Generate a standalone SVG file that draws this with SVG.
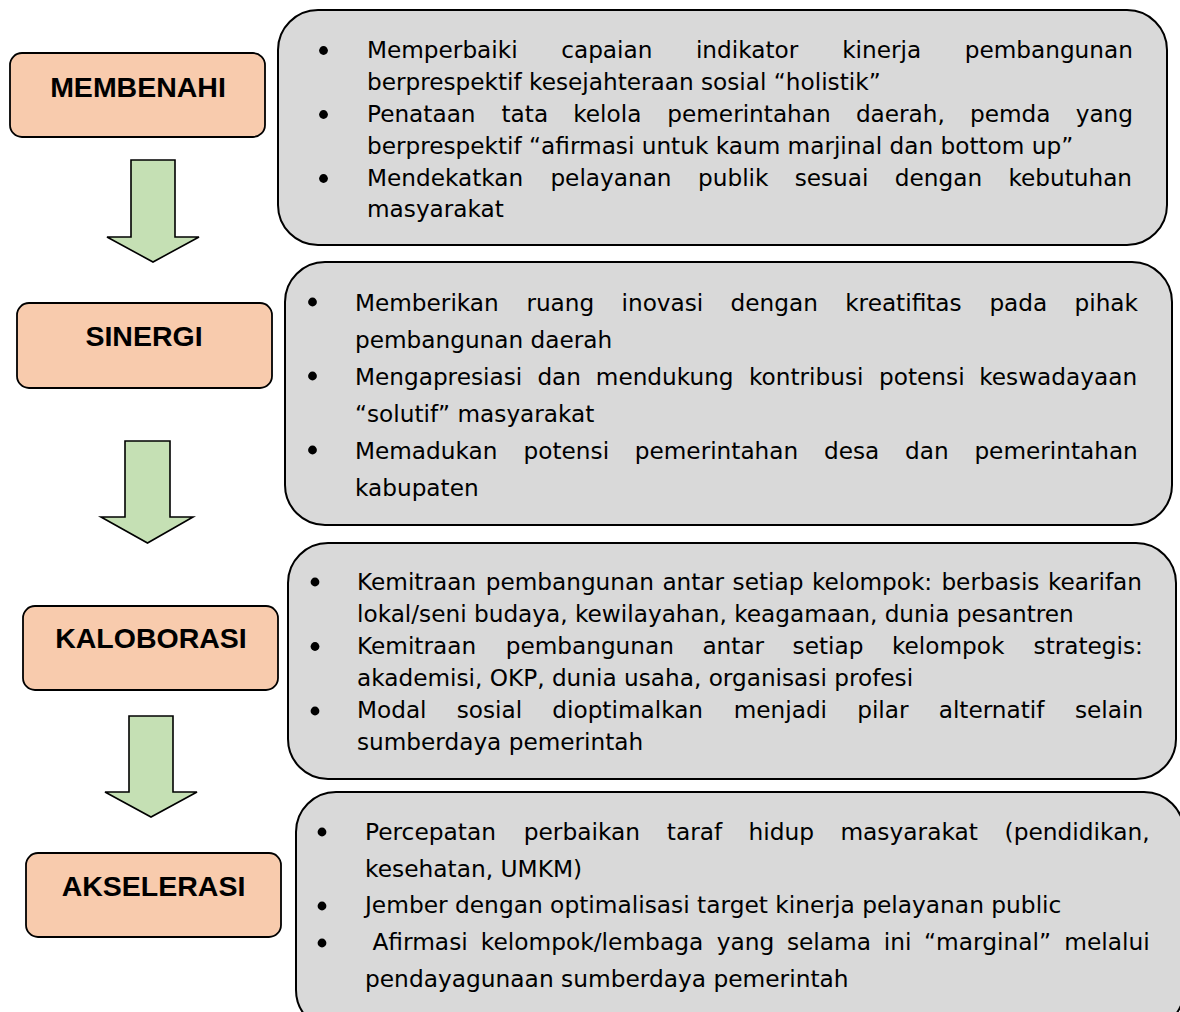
<svg xmlns="http://www.w3.org/2000/svg" width="1180" height="1012" viewBox="0 0 1180 1012">
<style>
.step{fill:#f8cbad;stroke:#000;stroke-width:1.8}
.info{fill:#d9d9d9;stroke:#000;stroke-width:2}
.arrow{fill:#c5e0b4;stroke:#000;stroke-width:1.6;stroke-linejoin:miter}
.head{font-family:"Liberation Sans",Arial,sans-serif;font-weight:bold;font-size:28.5px;fill:#000;text-anchor:middle}
.t{font-family:"DejaVu Sans",Verdana,sans-serif;font-size:23.2px;fill:#000}
.t4{font-family:"DejaVu Sans",Verdana,sans-serif;font-size:23.3px;fill:#000}
.dot{fill:#000}
</style>
<rect width="1180" height="1012" fill="#fff"/>

<g id="connectors">
<polygon class="arrow" points="131,160 175,160 175,237 199,237 153,262 107,237 131,237"/>
<polygon class="arrow" points="125,441 170,441 170,517 193,517 147.5,543 101,517 125,517"/>
<polygon class="arrow" points="129,716 173,716 173,792 197,792 151,817 105,792 129,792"/>
</g>

<g id="node-membenahi">
<rect class="step" x="10" y="53" width="255" height="84" rx="12"/>
<text class="head" x="138" y="96.5">MEMBENAHI</text>
</g>
<g id="node-sinergi">
<rect class="step" x="17" y="303" width="255" height="85" rx="12"/>
<text class="head" x="144" y="346">SINERGI</text>
</g>
<g id="node-kaloborasi">
<rect class="step" x="23" y="606" width="255" height="84" rx="12"/>
<text class="head" x="151" y="648">KALOBORASI</text>
</g>
<g id="node-akselerasi">
<rect class="step" x="26" y="853" width="255" height="84" rx="12"/>
<text class="head" x="153.5" y="896">AKSELERASI</text>
</g>

<g id="info-membenahi">
<rect class="info" x="278" y="10" width="889" height="235" rx="40"/>
<circle class="dot" cx="323.5" cy="50.5" r="4.4"/>
<circle class="dot" cx="323.5" cy="114.5" r="4.4"/>
<circle class="dot" cx="323.5" cy="178.5" r="4.4"/>
<text class="t" y="57.5"><tspan x="367">Memperbaiki</tspan><tspan x="561.2">capaian</tspan><tspan x="695.9">indikator</tspan><tspan x="842.2">kinerja</tspan><tspan x="964.7">pembangunan</tspan></text>
<text class="t" x="367" y="89.5">berprespektif kesejahteraan sosial “holistik”</text>
<text class="t" y="121.5"><tspan x="367">Penataan</tspan><tspan x="501.5">tata</tspan><tspan x="573.2">kelola</tspan><tspan x="667.3">pemerintahan</tspan><tspan x="855.9">daerah,</tspan><tspan x="970">pemda</tspan><tspan x="1075.7">yang</tspan></text>
<text class="t" x="367" y="153.5">berprespektif “afirmasi untuk kaum marjinal dan bottom up”</text>
<text class="t" y="185.5"><tspan x="367">Mendekatkan</tspan><tspan x="550.4">pelayanan</tspan><tspan x="698">publik</tspan><tspan x="794.7">sesuai</tspan><tspan x="894.8">dengan</tspan><tspan x="1008.4">kebutuhan</tspan></text>
<text class="t" x="367" y="217">masyarakat</text>
</g>

<g id="info-sinergi">
<rect class="info" x="285" y="262" width="887" height="263" rx="40"/>
<circle class="dot" cx="312.5" cy="302" r="4.4"/>
<circle class="dot" cx="312.5" cy="376" r="4.4"/>
<circle class="dot" cx="312.5" cy="450" r="4.4"/>
<text class="t" y="311"><tspan x="355">Memberikan</tspan><tspan x="526.4">ruang</tspan><tspan x="621.5">inovasi</tspan><tspan x="730.6">dengan</tspan><tspan x="845.2">kreatifitas</tspan><tspan x="989.4">pada</tspan><tspan x="1074.5">pihak</tspan></text>
<text class="t" x="355" y="348">pembangunan daerah</text>
<text class="t" y="385"><tspan x="355">Mengapresiasi</tspan><tspan x="537.4">dan</tspan><tspan x="595.8">mendukung</tspan><tspan x="749">kontribusi</tspan><tspan x="879.1">potensi</tspan><tspan x="979.2">keswadayaan</tspan></text>
<text class="t" x="355" y="422">“solutif” masyarakat</text>
<text class="t" y="459"><tspan x="355">Memadukan</tspan><tspan x="523.6">potensi</tspan><tspan x="634.8">pemerintahan</tspan><tspan x="824">desa</tspan><tspan x="905">dan</tspan><tspan x="974.4">pemerintahan</tspan></text>
<text class="t" x="355" y="496">kabupaten</text>
</g>

<g id="info-kaloborasi">
<rect class="info" x="288" y="543" width="888" height="236" rx="40"/>
<circle class="dot" cx="315" cy="582" r="4.4"/>
<circle class="dot" cx="315" cy="646.5" r="4.4"/>
<circle class="dot" cx="315" cy="711" r="4.4"/>
<text class="t" y="590"><tspan x="357">Kemitraan</tspan><tspan x="485.7">pembangunan</tspan><tspan x="662.4">antar</tspan><tspan x="732.6">setiap</tspan><tspan x="811.9">kelompok:</tspan><tspan x="941.4">berbasis</tspan><tspan x="1047.9">kearifan</tspan></text>
<text class="t" x="357" y="622">lokal/seni budaya, kewilayahan, keagamaan, dunia pesantren</text>
<text class="t" y="654"><tspan x="357">Kemitraan</tspan><tspan x="505.7">pembangunan</tspan><tspan x="702.4">antar</tspan><tspan x="792.6">setiap</tspan><tspan x="891.9">kelompok</tspan><tspan x="1033.6">strategis:</tspan></text>
<text class="t" x="357" y="686">akademisi, OKP, dunia usaha, organisasi profesi</text>
<text class="t" y="718"><tspan x="357">Modal</tspan><tspan x="456.7">sosial</tspan><tspan x="552.3">dioptimalkan</tspan><tspan x="733.7">menjadi</tspan><tspan x="857.2">pilar</tspan><tspan x="938.7">alternatif</tspan><tspan x="1075">selain</tspan></text>
<text class="t" x="357" y="750">sumberdaya pemerintah</text>
</g>

<g id="info-akselerasi">
<rect class="info" x="296" y="792" width="888" height="238" rx="40"/>
<circle class="dot" cx="322" cy="832" r="4.4"/>
<circle class="dot" cx="322" cy="906" r="4.4"/>
<circle class="dot" cx="322" cy="943" r="4.4"/>
<text class="t4" y="840"><tspan x="365">Percepatan</tspan><tspan x="523.7">perbaikan</tspan><tspan x="666.8">taraf</tspan><tspan x="748.5">hidup</tspan><tspan x="840.4">masyarakat</tspan><tspan x="1004.6">(pendidikan,</tspan></text>
<text class="t4" x="365" y="877">kesehatan, UMKM)</text>
<text class="t4" x="365" y="913">Jember dengan optimalisasi target kinerja pelayanan public</text>
<text class="t4" y="950"><tspan x="372.4">Afirmasi</tspan><tspan x="480.8">kelompok/lembaga</tspan><tspan x="716.7">yang</tspan><tspan x="786.9">selama</tspan><tspan x="883.7">ini</tspan><tspan x="924">“marginal”</tspan><tspan x="1064.2">melalui</tspan></text>
<text class="t4" x="365" y="987">pendayagunaan sumberdaya pemerintah</text>
</g>
</svg>
